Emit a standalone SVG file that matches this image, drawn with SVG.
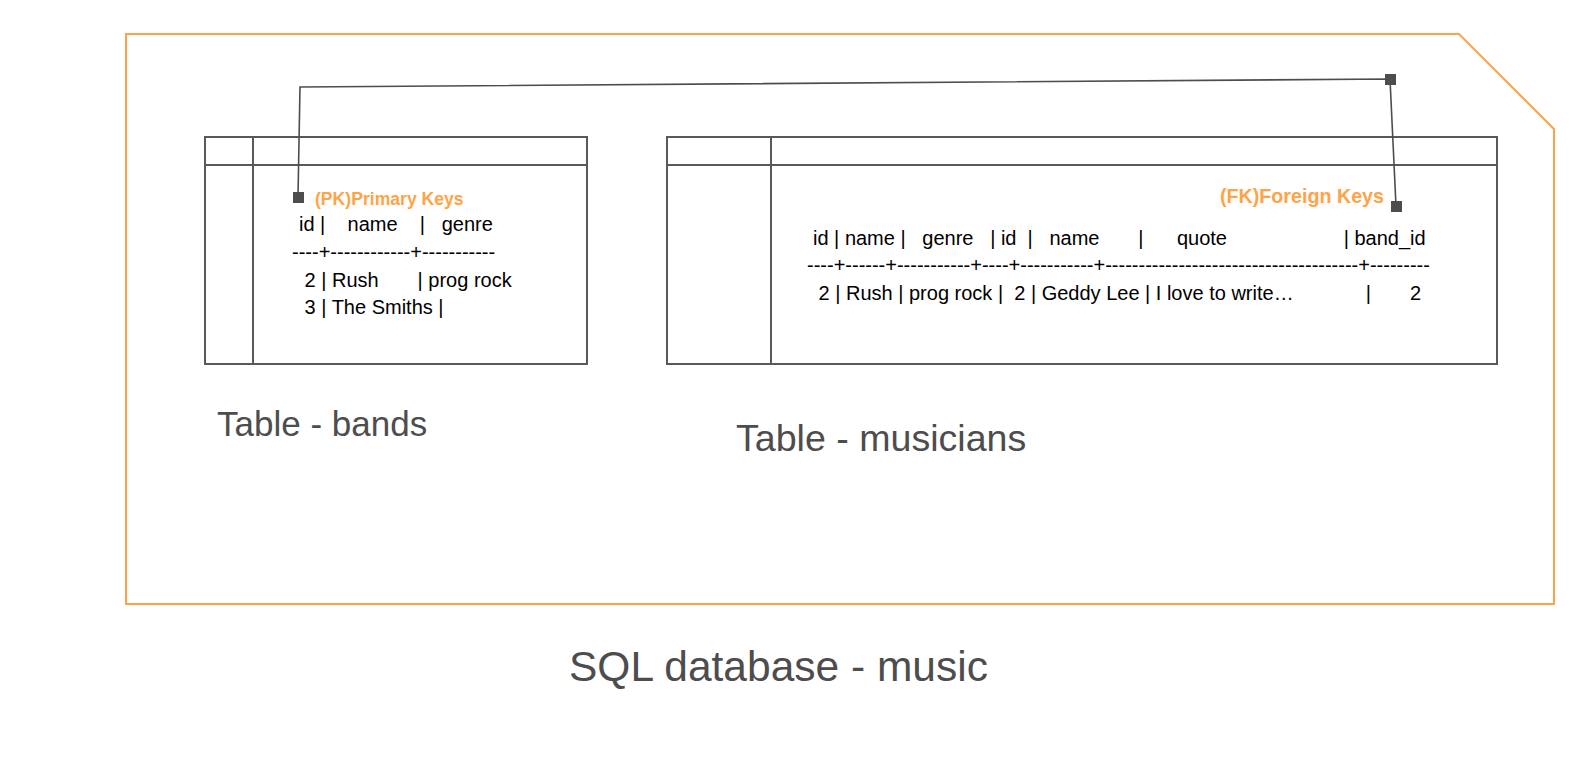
<svg xmlns="http://www.w3.org/2000/svg" width="1569" height="761" viewBox="0 0 1569 761">
<style>
.frame{fill:none;stroke:#FFA347;stroke-width:2}
.tbl{fill:#fff;stroke:#595959;stroke-width:2}
.ln{stroke:#595959;stroke-width:2;fill:none}
.t{font-family:"Liberation Sans",Arial,sans-serif;font-size:20px;fill:#000;white-space:pre}
.key{font-family:"Liberation Sans",Arial,sans-serif;font-weight:bold;fill:#FFA347;white-space:pre}
.lbl{font-family:"Liberation Sans",Arial,sans-serif;fill:#4D4D4D}
.conn{fill:none;stroke:#4D4D4D;stroke-width:1.6}
.end{fill:#4D4D4D}
</style>
<rect width="1569" height="761" fill="#fff"/>
<g id="database">
<path class="frame" d="M126,34 H1459 L1554,129 V604 H126 Z"/>
</g>
<g id="table-bands">
<rect class="tbl" x="205" y="137" width="382" height="227"/>
<line class="ln" x1="205" y1="165" x2="587" y2="165"/>
<line class="ln" x1="253" y1="137" x2="253" y2="364"/>
<text class="key" x="315" y="205" font-size="17.6">(PK)Primary Keys</text>
<text class="t" x="299" y="231" xml:space="preserve">id |    name    |   genre</text>
<text class="t" x="292" y="259" xml:space="preserve">----+------------+-----------</text>
<text class="t" x="299" y="287" xml:space="preserve"> 2 | Rush       | prog rock</text>
<text class="t" x="299" y="314" xml:space="preserve"> 3 | The Smiths |</text>
</g>
<g id="table-musicians">
<rect class="tbl" x="667" y="137" width="830" height="227"/>
<line class="ln" x1="667" y1="165" x2="1497" y2="165"/>
<line class="ln" x1="771" y1="137" x2="771" y2="364"/>
<text class="key" x="1384" y="203" font-size="19.7" text-anchor="end">(FK)Foreign Keys</text>
<text class="t" x="813" y="245" xml:space="preserve">id | name |   genre   | id  |   name       |      quote                     | band_id</text>
<text class="t" x="807" y="272" xml:space="preserve">----+------+-----------+----+-----------+--------------------------------------+---------</text>
<text class="t" x="813" y="300" xml:space="preserve"> 2 | Rush | prog rock |  2 | Geddy Lee | I love to write…             |       2</text>
</g>
<g id="label-bands"><text class="lbl" x="217" y="436" font-size="35">Table - bands</text></g>
<g id="label-musicians"><text class="lbl" x="736" y="451" font-size="37.6">Table - musicians</text></g>
<g id="label-db"><text class="lbl" x="569" y="681" font-size="42.5">SQL database - music</text></g>
<g id="connectors">
<polyline class="conn" points="298,197 300,87 1390,79 1396,206"/>
<rect class="end" x="293" y="192" width="11" height="11"/>
<rect class="end" x="1385" y="74" width="11" height="11"/>
<rect class="end" x="1391" y="201" width="11" height="11"/>
</g>
</svg>
